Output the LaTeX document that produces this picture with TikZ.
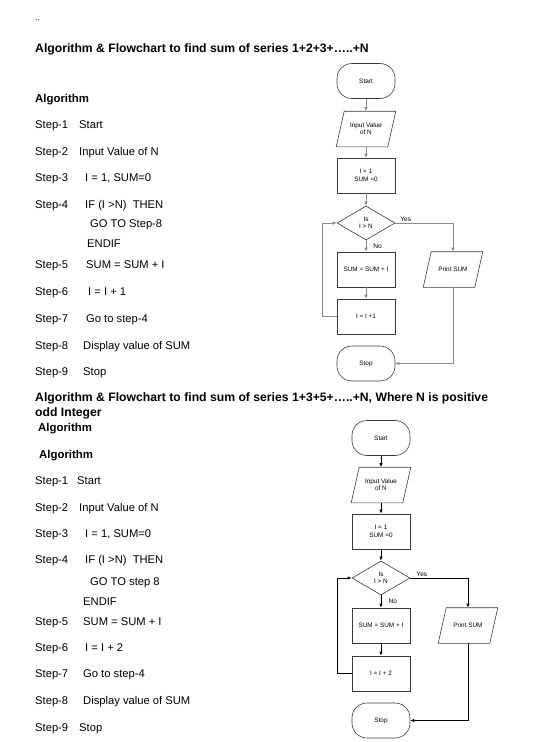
\documentclass[tikz,border=0pt]{standalone}
\usepackage{fontspec}
\setmainfont{Liberation Sans}
\usepackage{xcolor}
\usetikzlibrary{arrows.meta,shapes.geometric}
\definecolor{boxline}{HTML}{3A3A3A}
\definecolor{flowgray}{HTML}{8C8C8C}
% slanted frame round an input/output node
\newcommand\ioframe[1]{\draw[draw=boxline,line width=0.6pt]
  ([xshift=4pt]#1.north west) -- ([xshift=4pt]#1.north east)
  -- ([xshift=-4pt]#1.south east) -- ([xshift=-4pt]#1.south west) -- cycle;}

\begin{document}
\begin{tikzpicture}[x=1pt,y=-1pt,>={Latex[length=4pt,width=3.5pt]},
    title/.style={anchor=base west,inner sep=0,font=\fontsize{12.2}{14}\selectfont\bfseries},
    heading/.style={anchor=base west,inner sep=0,font=\fontsize{11.4}{13}\selectfont\bfseries},
    steptext/.style={anchor=base west,inner sep=0,font=\fontsize{11.2}{13}\selectfont},
    chart/.style={draw=boxline,line width=0.6pt,align=center,inner sep=1pt,
      font=\fontsize{6.4}{7.4}\selectfont},
    term/.style={chart,rectangle,rounded corners=15pt,minimum width=58pt,minimum height=35pt},
    proc/.style={chart,rectangle,minimum width=58pt,minimum height=35pt},
    io/.style={chart,draw=none,rectangle,minimum width=51pt,minimum height=35pt},
    test/.style={chart,diamond,minimum width=58pt,minimum height=34pt,inner sep=0pt},
    lbl/.style={inner sep=1pt,font=\fontsize{6.6}{7.6}\selectfont},
    flowa/.style={->,draw=flowgray,line width=0.6pt},
    flowb/.style={->,draw=black,line width=1pt}]
\useasboundingbox (0,0) rectangle (537,742);

\node[anchor=base west,inner sep=0,font=\fontsize{8}{9}\selectfont] (dots) at (35,20) {..};

% first algorithm
\node[title] (title1) at (35,52.5) {Algorithm \& Flowchart to find sum of series 1+2+3+…..+N};
\node[heading] (alg1) at (35,102) {Algorithm};
\foreach \n/\y in {1/128,2/155,3/181,4/208,5/268,6/295,7/322,8/349,9/375}
  \node[steptext] (s1n\n) at (35,\y) {Step-\n};
\node[steptext] (t1a) at (79,128) {Start};
\node[steptext] (t1b) at (79,155) {Input Value of N};
\node[steptext] (t1c) at (85,181) {I = 1, SUM=0};
\node[steptext] (t1d) at (85,208) {IF (I >N)\ \ THEN};
\node[steptext] (t1e) at (90,227) {GO TO Step-8};
\node[steptext] (t1f) at (87,247) {ENDIF};
\node[steptext] (t1g) at (86,268) {SUM = SUM + I};
\node[steptext] (t1h) at (88,295) {I = I + 1};
\node[steptext] (t1i) at (86,322) {Go to step-4};
\node[steptext] (t1j) at (83,349) {Display value of SUM};
\node[steptext] (t1k) at (83,375) {Stop};

\node[term] (a1) at (366,81) {Start};
\node[io] (b1) at (366,129) {Input Value\\of N};
\node[proc] (c1) at (366,175.5) {I = 1\\SUM =0};
\node[test] (d1) at (366,223) {Is\\I > N};
\node[proc] (e1) at (366,269.5) {SUM = SUM + I};
\node[proc] (f1) at (366,316.5) {I = I +1};
\node[term] (g1) at (366,363.5) {Stop};
\node[io] (p1) at (453,269.5) {Print SUM};
\ioframe{b1}
\ioframe{p1}
\draw[flowa] (a1) -- (b1);
\draw[flowa] (b1) -- (c1);
\draw[flowa] (c1) -- (d1);
\draw[flowa] (d1) -- node[lbl,right,xshift=6pt] {No} (e1);
\draw[flowa] (e1) -- (f1);
\draw[flowa] (f1.west) -- ++(-14,0) |- (d1.west);
\draw[flowa] (d1.east) -| node[lbl,above,pos=0.09] {Yes} (p1.north);
\draw[flowa] (p1.south) |- (g1.east);

% second algorithm
\node[title] (title2a) at (35,401.5) {Algorithm \& Flowchart to find sum of series 1+3+5+…..+N, Where N is positive};
\node[title] (title2b) at (35,416.5) {odd Integer};
\node[heading] (alg2a) at (38,431) {Algorithm};
\node[heading] (alg2b) at (39,458) {Algorithm};
\foreach \n/\y in {1/484,2/511,3/537,4/563,5/625,6/651,7/677,8/704,9/731}
  \node[steptext] (s2n\n) at (35,\y) {Step-\n};
\node[steptext] (t2a) at (77,484) {Start};
\node[steptext] (t2b) at (79,511) {Input Value of N};
\node[steptext] (t2c) at (85,537) {I = 1, SUM=0};
\node[steptext] (t2d) at (85,563) {IF (I >N)\ \ THEN};
\node[steptext] (t2e) at (90,585) {GO TO step 8};
\node[steptext] (t2f) at (83,605) {ENDIF};
\node[steptext] (t2g) at (83,625) {SUM = SUM + I};
\node[steptext] (t2h) at (85,651) {I = I + 2};
\node[steptext] (t2i) at (83,677) {Go to step-4};
\node[steptext] (t2j) at (83,704) {Display value of SUM};
\node[steptext] (t2k) at (79,731) {Stop};

\node[term] (a2) at (381,438) {Start};
\node[io] (b2) at (381,485) {Input Value\\of N};
\node[proc] (c2) at (381,531.5) {I = 1\\SUM =0};
\node[test] (d2) at (381,578) {Is\\I > N};
\node[proc] (e2) at (381,625.5) {SUM = SUM + I};
\node[proc] (f2) at (381,673.5) {I = I + 2};
\node[term] (g2) at (381,720.5) {Stop};
\node[io] (p2) at (468,625.5) {Print SUM};
\ioframe{b2}
\ioframe{p2}
\draw[flowb] (a2) -- (b2);
\draw[flowb] (b2) -- (c2);
\draw[flowb] (c2) -- (d2);
\draw[flowb] (d2) -- node[lbl,right,xshift=6pt] {No} (e2);
\draw[flowb] (e2) -- (f2);
\draw[flowb] (f2.west) -- ++(-14,0) |- (d2.west);
\draw[flowb] (d2.east) -| node[lbl,above,pos=0.1] {Yes} (p2.north);
\draw[flowb] (p2.south) |- (g2.east);
\end{tikzpicture}
\end{document}
